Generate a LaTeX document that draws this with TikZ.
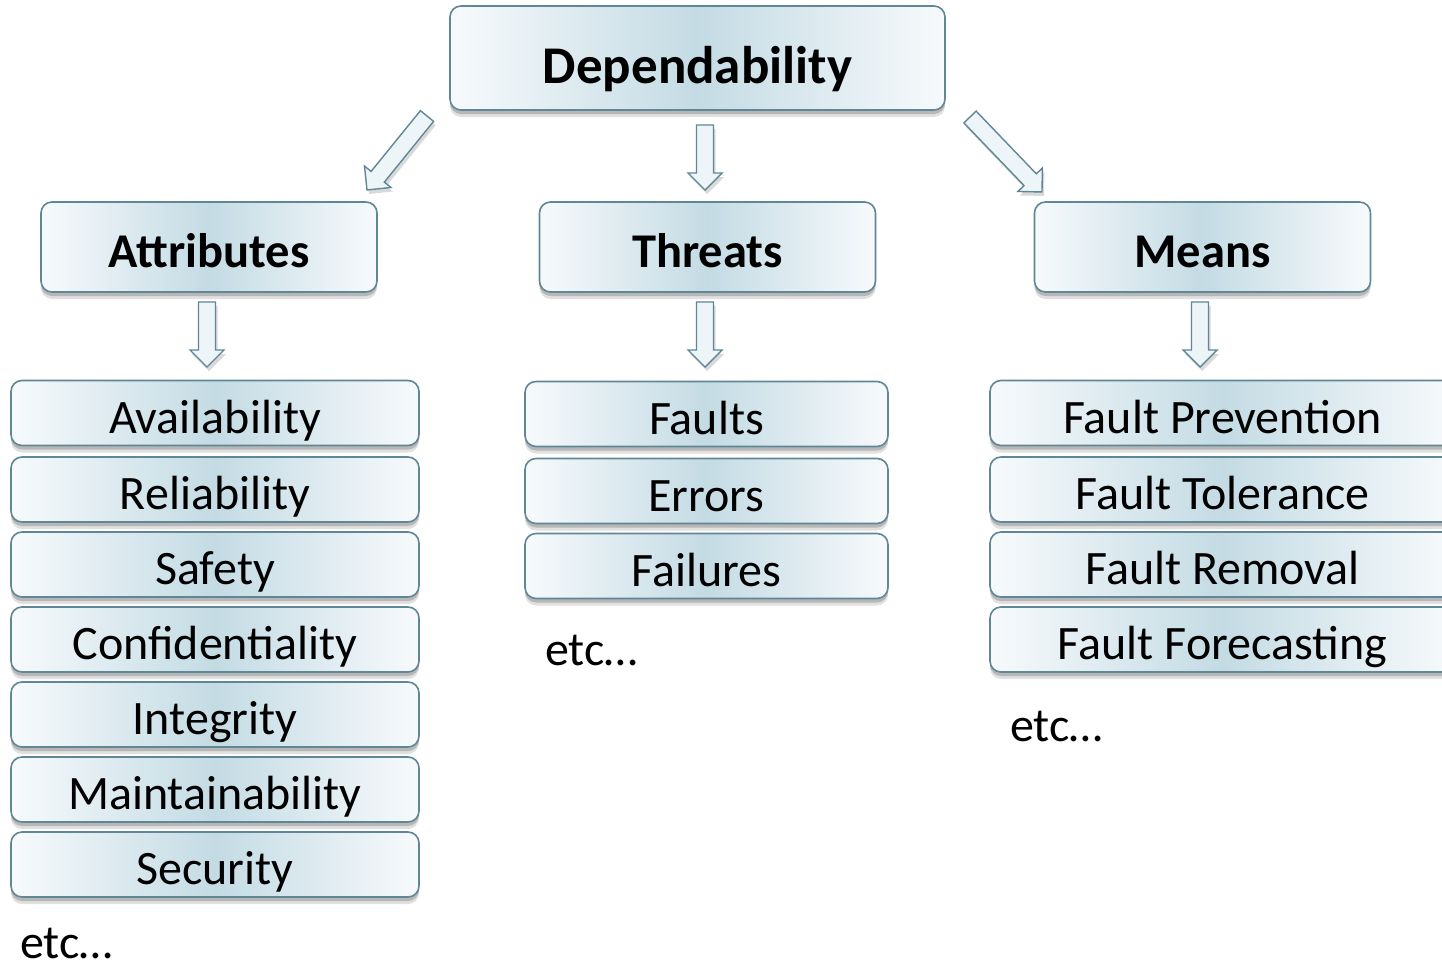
\documentclass[tikz,border=0pt]{standalone}
\usepackage{fontspec}
\setmainfont{Carlito}
\usetikzlibrary{shadows,calc}
\definecolor{bord}{RGB}{95,135,150}
\definecolor{bmid}{RGB}{196,219,228}
\definecolor{bedge}{RGB}{247,250,252}
\definecolor{afill}{RGB}{238,245,249}
\tikzset{
  box/.style={rounded corners=11, draw=bord, line width=1.6,
    left color=bedge, right color=bedge, middle color=bmid,
    general shadow={shadow xshift=0, shadow yshift=-7, opacity=0.12, fill=black},
    general shadow={shadow xshift=0, shadow yshift=-4, opacity=0.18, fill=black},
    inner sep=0, align=center, text depth=0},
  topbox/.style={box, minimum width=495, minimum height=104,
    font=\fontsize{53}{53}\selectfont\bfseries, text height=50},
  headbox/.style={box, minimum width=336, minimum height=90,
    font=\fontsize{48.5}{48.5}\selectfont\bfseries, text height=40},
  itembox/.style={box, minimum height=65,
    font=\fontsize{48}{48}\selectfont, text height=40},
  etc/.style={anchor=base west, inner sep=0, font=\fontsize{48}{48}\selectfont},
  barrow/.style={draw=bord, line width=1.4, fill=afill, line join=miter,
    general shadow={shadow xshift=2, shadow yshift=-4, opacity=0.15, fill=black}}
}
\newcommand\blockarrow[2]{%
  \draw[barrow] let \p1=(#1), \p2=(#2),
    \n1={atan2(\y2-\y1,\x2-\x1)}, \n2={veclen(\x2-\x1,\y2-\y1)} in
    [shift={(\p1)}, rotate=\n1]
    (0,-8.5) -- (\n2-17,-8.5) -- (\n2-17,-17) -- (\n2,0) -- (\n2-17,17)
    -- (\n2-17,8.5) -- (0,8.5) -- cycle;}
\begin{document}
\begin{tikzpicture}[x=1pt,y=1pt]
\useasboundingbox (0,0) rectangle (1442,-969);
\clip (0,0) rectangle (1442,-969);
\fill[white] (0,0) rectangle (1442,-969);

% top
\node[topbox] (dep) at (697.5,-58) {Dependability};

% headings
\node[headbox] (att) at (209,-247) {Attributes};
\node[headbox] (thr) at (707.5,-247) {Threats};
\node[headbox] (mea) at (1202.5,-247) {Means};

% arrows from top
\coordinate (a1s) at (427,-116); \coordinate (a1e) at (367,-190);
\coordinate (a2s) at (705,-125); \coordinate (a2e) at (705,-190);
\coordinate (a3s) at (970,-117); \coordinate (a3e) at (1042,-192);
\blockarrow{a1s}{a1e}
\blockarrow{a2s}{a2e}
\blockarrow{a3s}{a3e}

% arrows below headings
\coordinate (b1s) at (207,-302); \coordinate (b1e) at (207,-367);
\coordinate (b2s) at (705,-302); \coordinate (b2e) at (705,-367);
\coordinate (b3s) at (1200,-302); \coordinate (b3e) at (1200,-367);
\blockarrow{b1s}{b1e}
\blockarrow{b2s}{b2e}
\blockarrow{b3s}{b3e}

% attributes list
\node[itembox, minimum width=408] (av) at (215,-413) {Availability};
\node[itembox, minimum width=408] (re) at (215,-489.5) {Reliability};
\node[itembox, minimum width=408] (sa) at (215,-564.5) {Safety};
\node[itembox, minimum width=408] (co) at (215,-639.5) {Confidentiality};
\node[itembox, minimum width=408] (in) at (215,-714.5) {Integrity};
\node[itembox, minimum width=408] (ma) at (215,-789.5) {Maintainability};
\node[itembox, minimum width=408] (se) at (215,-864.5) {Security};
\node[etc] (etc1) at (20,-958) {etc…};

% threats list
\node[itembox, minimum width=363] (fa) at (706.5,-414) {Faults};
\node[itembox, minimum width=363] (er) at (706.5,-491) {Errors};
\node[itembox, minimum width=363] (fl) at (706.5,-566) {Failures};
\node[etc] (etc2) at (545,-665) {etc…};

% means list
\node[itembox, minimum width=465] (fp) at (1222.5,-413) {Fault Prevention};
\node[itembox, minimum width=465] (ft) at (1222.5,-489.5) {Fault Tolerance};
\node[itembox, minimum width=465] (fr) at (1222.5,-564.5) {Fault Removal};
\node[itembox, minimum width=465] (ff) at (1222.5,-639.5) {Fault Forecasting};
\node[etc] (etc3) at (1010,-741) {etc…};
\end{tikzpicture}
\end{document}
